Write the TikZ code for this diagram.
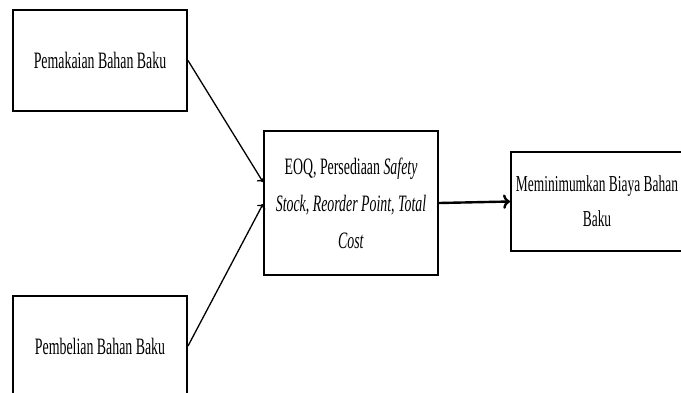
\documentclass[tikz,border=0pt]{standalone}
\usepackage{fontspec}
\setmainfont{Liberation Serif}[FakeStretch=0.59]
\usetikzlibrary{calc, arrows.meta, positioning}

\begin{document}
\begin{tikzpicture}[x=1pt, y=-1pt, align=center, font=\fontsize{23.5}{37}\selectfont]
\useasboundingbox (0,0) rectangle (681,392);

\tikzstyle{input box}=[draw, line width=2pt, minimum width=174pt, minimum height=101pt, inner sep=0pt]
\tikzstyle{process box}=[draw, line width=2pt, minimum width=174pt, minimum height=144pt, inner sep=0pt]
\tikzstyle{goal box}=[draw, line width=2pt, minimum width=172pt, minimum height=99pt, inner sep=0pt, font=\fontsize{22.8}{35}\selectfont]
\tikzstyle{link}=[->, line width=1.3pt]

% masukan
\node[input box] (pemakaian) at (100, 60.5) {Pemakaian Bahan Baku};
\node[input box] (pembelian) at (100, 346) {Pembelian Bahan Baku};

% proses
\node[process box] (proses) at (351, 203) {EOQ, Persediaan \textit{Safety}\\ \textit{Stock, Reorder Point, Total}\\ \textit{Cost}};

% tujuan
\node[goal box] (tujuan) at (597, 201.5) {Meminimumkan Biaya Bahan\\ Baku};

% masukan->proses
\draw[link] (pemakaian.east) -- ($(proses.west)+(0,-21)$);
\draw[link] (pembelian.east) -- ($(proses.west)+(0,1)$);

% proses->tujuan
\draw[link, line width=2.4pt] (proses.east) -- (tujuan.west);

\end{tikzpicture}
\end{document}
